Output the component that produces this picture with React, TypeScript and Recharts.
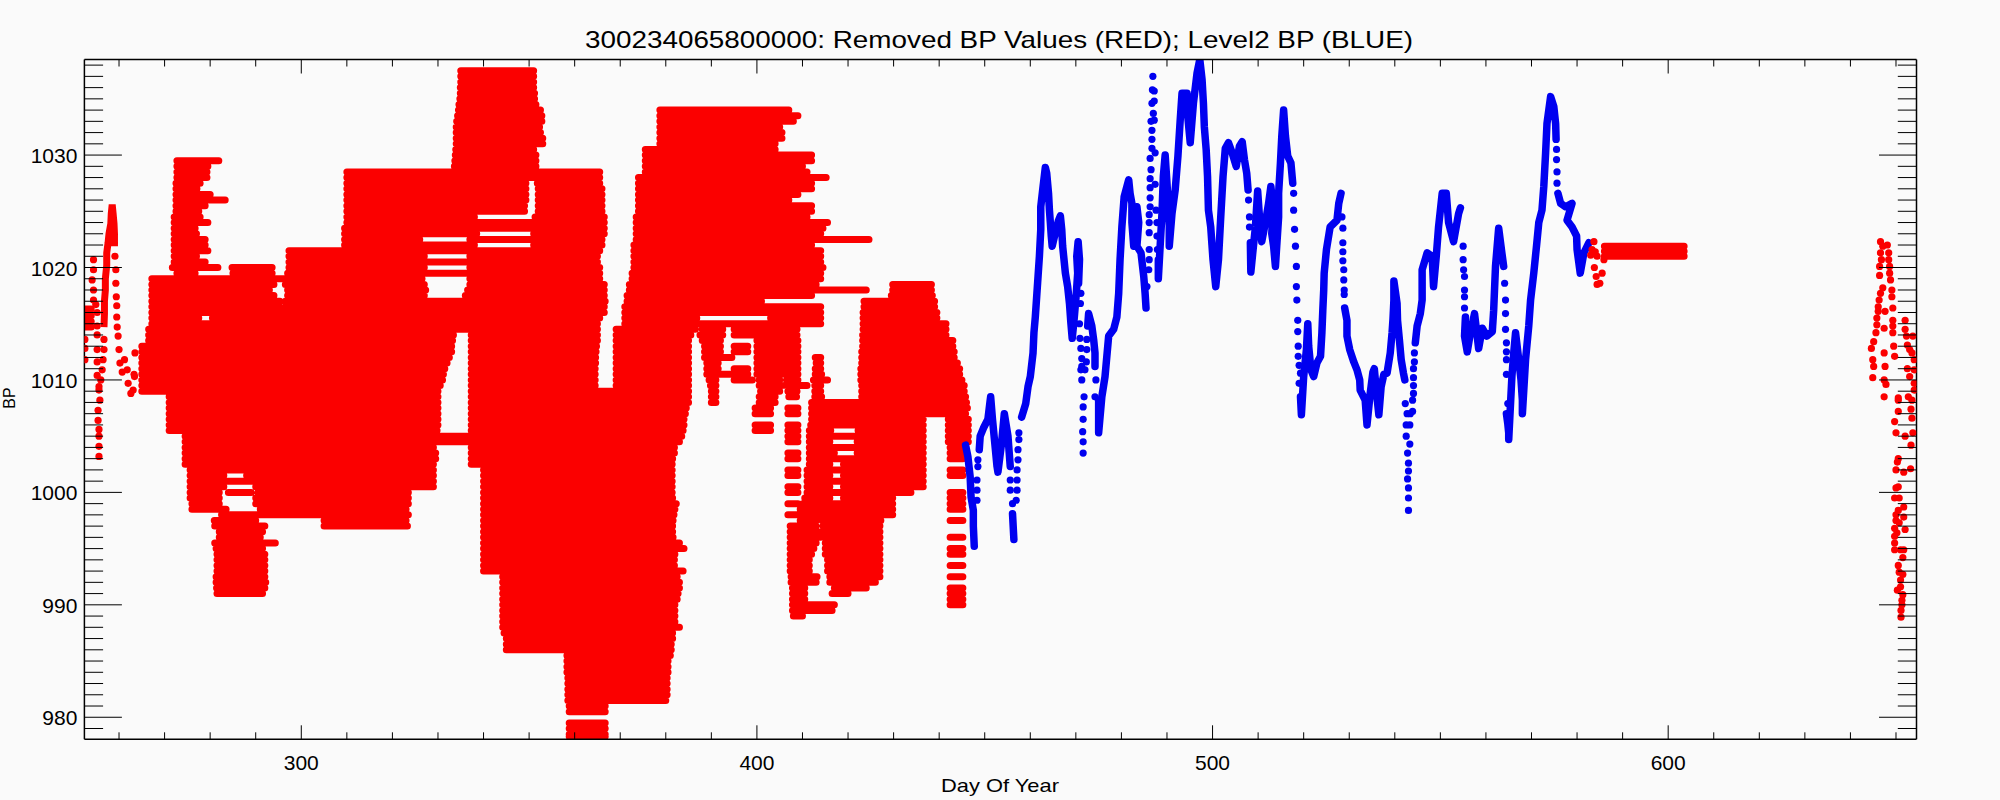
import React from "react";
import { ComposedChart, Line, Scatter, XAxis, YAxis } from "recharts";

const xMinorTicks = [
  260, 270, 280, 290, 300, 310, 320, 330, 340, 350, 360, 370, 380, 390, 400, 410, 420, 430, 440, 450,
  460, 470, 480, 490, 500, 510, 520, 530, 540, 550, 560, 570, 580, 590, 600, 610, 620, 630, 640, 650,
];
const yTicks = [
  979, 980, 981, 982, 983, 984, 985, 986, 987, 988, 989, 990, 991, 992, 993, 994, 995, 996, 997, 998, 999,
  1000, 1001, 1002, 1003, 1004, 1005, 1006, 1007, 1008, 1009, 1010, 1011, 1012, 1013, 1014, 1015, 1016, 1017, 1018, 1019,
  1020, 1021, 1022, 1023, 1024, 1025, 1026, 1027, 1028, 1029, 1030, 1031, 1032, 1033, 1034, 1035, 1036, 1037, 1038,
];

// removed values sit on pressure levels: [bp, dayFrom, dayTo, dayFrom, dayTo, ...]
const redLevels: number[][] = [
  [1037.5, 335, 351],
  [1037, 335, 351],
  [1036.5, 335, 351],
  [1036, 334.9, 351],
  [1035.5, 334.9, 351.2],
  [1035, 334.8, 351.2],
  [1034.5, 334.6, 351.5],
  [1034, 334.5, 352.5, 378.7, 407],
  [1033.5, 334.3, 352.8, 378.7, 409],
  [1033, 334.1, 352.8, 378.7, 408],
  [1032.5, 334, 352.3, 378.7, 405],
  [1032, 334, 352.5, 378.7, 405.5],
  [1031.5, 334, 353, 378.7, 405.5],
  [1031, 334, 353, 378.7, 404],
  [1030.5, 333.9, 351, 375.5, 404],
  [1030, 333.8, 351.5, 375.5, 412],
  [1029.5, 272.7, 281.9, 333.7, 351.5, 375.5, 412],
  [1029, 272.7, 279.5, 333.6, 351.5, 375.5, 410],
  [1028.5, 272.7, 279.3, 310, 365.5, 375.5, 411],
  [1028, 272.7, 279.3, 310, 365.5, 374, 415.2],
  [1027.5, 272.5, 277.8, 310, 349.3, 351.8, 365.5, 374, 412],
  [1027, 272.5, 277.1, 310, 325, 325.8, 349.3, 352, 366, 374, 412],
  [1026.5, 272.5, 280, 310, 325, 325.8, 349.3, 352, 366, 374, 409],
  [1026, 272.5, 283.3, 310, 325, 325.8, 349.3, 352, 366, 374, 407],
  [1025.5, 272.5, 278.9, 310, 349, 352, 366, 374, 412],
  [1025, 272.5, 277.5, 310, 349, 352, 366, 374, 412],
  [1024.5, 272.1, 277.8, 310, 338, 351.3, 366.5, 373.5, 411],
  [1024, 272.1, 279.5, 310, 366.5, 373.5, 415.5],
  [1023.5, 272.1, 276.7, 309.5, 366.5, 373.5, 414.5],
  [1023, 272.1, 277, 309.5, 338.5, 351, 366.5, 373.5, 414],
  [1022.5, 272.1, 278.9, 309.5, 326, 337, 366, 373.5, 424.6],
  [1022, 272.1, 278.9, 309.5, 338, 351, 366, 373, 412],
  [1021.5, 272.1, 279.5, 297.3, 365.5, 373, 414],
  [1021, 272.1, 277, 297.3, 327, 337, 365, 373, 414],
  [1020.5, 272.1, 278.9, 297.3, 365, 373, 414],
  [1020, 271.7, 281.7, 284.8, 293.6, 297.3, 327, 337, 365.5, 373, 414.5],
  [1019.5, 272.7, 276.7, 285, 293.6, 297, 365.5, 372.6, 414],
  [1019, 267.2, 326.5, 337, 365.5, 372.6, 414],
  [1018.5, 267.2, 294, 296.5, 327, 337, 366.5, 372, 413, 429.8, 438.3],
  [1018, 267.2, 293, 297, 327.3, 336.5, 366.5, 372, 424, 429.8, 438.3],
  [1017.5, 267.2, 294, 297, 327, 336, 366.5, 371.5, 412, 429.5, 438.5],
  [1017, 267.2, 295.3, 296.5, 366.7, 371.5, 401, 423.5, 439],
  [1016.5, 267.2, 295.3, 296.5, 366.5, 371, 414, 423.5, 439],
  [1016, 267.2, 366.5, 371, 414, 423.3, 439.5],
  [1015.5, 267.2, 277.5, 280.5, 365.5, 371, 386.8, 403, 414, 423.3, 439.5],
  [1015, 267.2, 365, 371, 414, 423.3, 441.5],
  [1014.5, 266.5, 365, 369.1, 386.5, 388, 392.5, 395, 405, 406, 408.8, 423.3, 441.5],
  [1014, 266.5, 333.4, 337.3, 365, 369.1, 385.5, 387.5, 392.5, 395, 405.5, 406, 408.8, 423.2, 441.5],
  [1013.5, 266.5, 333.2, 337.3, 365, 369.1, 385, 388, 392, 400, 405.5, 406, 409, 423.2, 443],
  [1013, 265, 333, 337.3, 364.8, 369.1, 385, 388.5, 392, 395, 398, 400, 405, 406, 409, 423.2, 443],
  [1012.5, 265, 333, 337.3, 364.7, 369.1, 385, 388.5, 392, 395, 398, 400, 405, 406, 409, 423, 443.3],
  [1012, 265, 332.5, 337.3, 364.6, 369.1, 385, 388.5, 394.5, 400, 405, 406, 409, 412.8, 414, 423, 443.3],
  [1011.5, 265, 332, 337.3, 364.6, 369.1, 385, 389, 391.5, 400, 405, 406, 409, 413, 414, 423, 444],
  [1011, 265, 331.5, 337.3, 364.5, 369.1, 385, 389, 391.5, 395, 398, 400, 405, 406, 409, 412.8, 414, 422.8, 444.5],
  [1010.5, 265, 331.2, 337.3, 364.5, 369.1, 385, 389, 398, 400, 405.5, 406.5, 409, 412.8, 414.2, 422.8, 444.5],
  [1010, 265, 331, 337.3, 364.5, 369.1, 385, 389.5, 391, 395, 399, 400.5, 405, 406.5, 409, 412.4, 415.5, 422.8, 445],
  [1009.5, 265, 330.5, 337.3, 364.5, 369.1, 385, 389.8, 391, 400.5, 405.5, 406.5, 411, 412.7, 414, 423, 445.5],
  [1009, 265, 330, 337.3, 385, 390, 391, 400.8, 405, 406.8, 408.8, 412.7, 414, 423, 445.5],
  [1008.5, 271, 330, 337.3, 385, 390, 391, 400.5, 404, 407, 408.7, 412.7, 414.2, 423, 445.8],
  [1008, 271, 330, 337.3, 385, 390, 391, 400.5, 404, 412, 446],
  [1007.5, 271, 330, 337.3, 384.5, 399.6, 403, 406.8, 409, 412, 446.2],
  [1007, 271, 330, 337.3, 384.3, 399.6, 403, 406.8, 409, 412, 436.8, 437.5, 445.8],
  [1006.5, 271, 330, 337.3, 384, 412, 436.5, 442, 446.4],
  [1006, 271, 330, 337.3, 384, 399.6, 403, 406.8, 409, 411.8, 436.5, 442, 446.4],
  [1005.5, 271, 329.8, 337.3, 383.8, 399.6, 403, 406.8, 409, 411.5, 416.2, 422.2, 436.5, 442, 446.4],
  [1005, 274.5, 383.5, 406.8, 409, 411.5, 436.5, 442, 446.4],
  [1004.5, 274.5, 383, 406.8, 409, 411.5, 416, 422, 436.5, 442, 446.4],
  [1004, 274.5, 329, 337.3, 381.9, 411.5, 436.5, 442.4, 445.2],
  [1003.5, 274.5, 329.5, 337.3, 381.9, 406.8, 409, 411.5, 417, 422, 436.5, 442.4, 445.2],
  [1003, 274.5, 329.5, 337.3, 381.5, 406.8, 409, 411.5, 436.5, 442.4, 445.2],
  [1002.5, 274.5, 329, 337.3, 381.4, 411.5, 416, 419, 436.5],
  [1002, 275.6, 329, 340, 381.4, 406.8, 409, 411, 436.5, 442.4, 445.2],
  [1001.5, 275.6, 283, 288, 329, 340, 381.4, 406.8, 409, 411, 416, 419, 436.5, 442.4, 445.2],
  [1001, 275.6, 329, 340, 381.4, 411, 436.5],
  [1000.5, 275.6, 283, 290, 329, 340, 381.4, 406.8, 409, 411, 416, 419, 436.5],
  [1000, 275.6, 282, 284, 289, 290.5, 323.5, 340, 381.4, 406.8, 409, 411, 433.8, 442.4, 445.2],
  [999.5, 275.6, 282, 290, 323.5, 340, 381.5, 410.5, 416, 419, 429.8, 442.4, 445.2],
  [999, 276, 282, 290, 323.5, 340, 382.3, 406.8, 409, 410, 429.8, 442.4, 445.2],
  [998.5, 276, 283.5, 291, 323, 340, 382, 409.5, 429.8, 442.4, 445.2],
  [998, 282.5, 323.5, 340, 381.8, 406.8, 429.8],
  [997.5, 280.9, 290, 305, 323, 340, 381.6, 409.5, 413, 414.3, 427.2, 442.4, 445.2],
  [997, 281, 292, 305, 323.3, 340, 381.5, 407.3, 413, 414.5, 427],
  [996.5, 282, 291.5, 340, 381.5, 407.3, 413.5, 414.5, 427],
  [996, 282, 291, 340, 381.6, 407.3, 414, 415, 427, 442.4, 445.2],
  [995.5, 281, 294.3, 340, 383, 407.3, 413, 415, 427],
  [995, 281.3, 291.5, 340, 384, 407.3, 412.5, 415, 427, 442.4, 445.2],
  [994.5, 281.5, 292, 340, 382, 407.3, 412, 415, 427, 442.4, 445.2],
  [994, 281.5, 292, 340, 381.9, 407.3, 411.5, 415.5, 427],
  [993.5, 281.5, 292, 340, 381.9, 407.3, 411.5, 415.5, 427, 442.4, 445.2],
  [993, 281.5, 292, 340, 383.8, 407.3, 411.5, 415.5, 427],
  [992.5, 281.3, 292, 344.2, 382.5, 407.5, 413.2, 416, 427, 442.4, 445.2],
  [992, 281.3, 292.2, 344.2, 383, 407.5, 413, 416, 426],
  [991.5, 281.4, 292, 344.2, 383, 407.8, 410.5, 417, 424, 442.4, 445.2],
  [991, 281.5, 291.5, 344.2, 382.7, 407.8, 410.5, 416.5, 420, 442.4, 445.2],
  [990.5, 344.2, 382.5, 407.8, 410.5, 442.4, 445.2],
  [990, 344.2, 382, 407.8, 417, 442.4, 445.2],
  [989.5, 344.2, 382, 407.8, 416.5],
  [989, 344.2, 382, 408, 410],
  [988.5, 344.2, 382],
  [988, 344.2, 383],
  [987.5, 344.5, 381.5],
  [987, 345, 381.5],
  [986.5, 345, 381.2],
  [986, 345, 381.2],
  [985.5, 358.3, 381],
  [985, 358.3, 380.5],
  [984.5, 358.3, 380.5],
  [984, 358.3, 380.5],
  [983.5, 358.5, 380.3],
  [983, 358.5, 380.3],
  [982.5, 358.5, 380.3],
  [982, 358.5, 380.3],
  [981.5, 358.5, 380],
  [981, 358.8, 366.7],
  [980.5, 358.8, 366.7],
  [979.5, 358.8, 366.7],
  [979, 358.8, 366.7],
  [978.5, 358.8, 366.7],
  [978.3, 358.8, 366.7],
  // start of the record and the flat stretch after the blue curve
  [1016.3, 252.4, 253.9],
  [1015.7, 252.4, 253.9],
  [1015.2, 252.4, 253.9],
  [1014.7, 252.4, 253.9],
  [1021.9, 586, 603.5],
  [1021.45, 586, 603.5],
  [1021, 586, 603.5],
];

const redCurve: number[][] = [
  [256.7, 1014.7], [256.8, 1015.9], [256.8, 1017], [257, 1018], [257, 1019], [257.3, 1020.2], [257.3, 1021.3],
  [257.6, 1022.2], [257.8, 1023], [258.2, 1023.9], [258.3, 1024.8], [258.5, 1025.6], [258.7, 1024.8], [258.9, 1023.9],
  [259, 1023], [259, 1021.9],
];

const redPoints: number[][] = [
  [252.5, 1013.6], [252.5, 1012.8], [252.5, 1011.8],
  [254.4, 1020.7], [254.4, 1019.8], [254.1, 1018.9], [254.4, 1018], [254.4, 1017.1], [254.9, 1016.7], [255.2, 1016],
  [255.2, 1014.8], [255.2, 1014], [255.2, 1012.7], [255.2, 1011.6], [255.2, 1010.4], [255.6, 1009.4],
  [255.6, 1003.2], [255.6, 1004.1], [255.6, 1005], [255.6, 1005.6], [255.4, 1006.4], [255.4, 1007.3], [255.8, 1008.2],
  [255.6, 1009.1], [256, 1010], [256.3, 1010.9], [256.5, 1011.8], [256.7, 1012.7], [256.7, 1013.6],
  [259.1, 1021], [259.3, 1019.8], [259.3, 1018.6], [259.4, 1017.4], [259.5, 1016.6], [259.5, 1015.6], [259.6, 1014.7],
  [259.8, 1013.9], [260, 1012.7], [260.2, 1011.5], [260.7, 1010.7], [261.2, 1011.8], [261.8, 1010.9], [262, 1009.7],
  [262.6, 1008.8], [263.1, 1009.1], [263.4, 1010.3], [263.5, 1012.4], [263.3, 1010.5],
  // little lump where the blue curve ends
  [583.7, 1022.3], [583.3, 1021.6], [584, 1021.4], [583, 1021.1], [584.4, 1021], [583.8, 1020], [584.2, 1019.2],
  [584.4, 1018.5], [585, 1018.6], [585.5, 1019.5], [585.9, 1020.7],
  // scattered values at the end of the record
  [646.6, 1022.3], [647.1, 1021.9], [646.6, 1021.3], [646.8, 1020.7], [646.4, 1020.1], [646.4, 1019.3], [648.1, 1022],
  [648.4, 1021.3], [648.4, 1020.7], [648.6, 1020.1], [648.6, 1019.5], [648.8, 1018.9], [649.1, 1018], [649.1, 1017.4],
  [647.1, 1018.2], [646.6, 1017.7], [646.3, 1017.1], [646.1, 1016.5], [646.1, 1016.1], [647.6, 1016.1], [649.3, 1016.4],
  [645.8, 1015.5], [645.8, 1014.9], [645.6, 1014.2], [647.4, 1014.6], [649.3, 1015.3], [649.3, 1014.8], [649.3, 1014.2],
  [652, 1015.3], [652, 1014.5], [645.1, 1013.4], [644.6, 1012.8], [644.9, 1011.8], [645.1, 1011.2], [644.9, 1010.2],
  [647.4, 1012.4], [649.5, 1013], [649.7, 1012.1], [647.6, 1011.2], [647.4, 1010], [647.8, 1009.6], [652.3, 1013.9],
  [652.5, 1013.1], [653, 1012.7], [653.7, 1013.9], [653.5, 1012.4], [654, 1011.8], [654, 1010.9], [652.5, 1011],
  [653, 1010.3], [654, 1009.7], [654, 1009.1], [647.4, 1008.5], [650.5, 1008.4], [652.7, 1008.5], [650.5, 1008.2],
  [653.5, 1008.2], [653.3, 1007.4], [650.5, 1007.2], [653.5, 1006.6], [649.7, 1006.3], [650, 1005.3], [653.7, 1005.3],
  [652, 1005], [653.3, 1004.2], [650.5, 1003], [650.3, 1002.7], [650, 1002], [651.7, 1001.8], [653.2, 1002.1],
  [650.5, 1000.5], [650, 1000.4], [649.7, 999.5], [650.7, 999.5], [651.7, 998.7], [650.5, 998.4], [650, 998],
  [651.7, 997.8], [650, 997.5], [650.7, 997.3], [649.7, 996.8], [652, 996.7], [650.2, 996.4], [649.7, 996.1],
  [649.7, 995.5], [649.7, 994.9], [651, 994.9], [651.7, 994.9], [651.5, 994.2], [650.5, 993.5], [650.7, 992.9],
  [651.5, 992.7], [651, 992.2], [651, 991.6], [650.3, 991.3], [651.5, 990.9], [651.3, 990.4], [651.3, 990],
  [651.1, 989.5], [651.1, 988.9],
];

// blue curve where the samples run together
const blueRuns: number[][][] = [
  [[445.8, 1004.2], [446.3, 1003.2], [446.8, 1001.4], [447, 999.6], [447.5, 998.4], [447.5, 997], [447.7, 995.2]],
  [[448.8, 1003.8], [449, 1005], [449.7, 1005.7], [450.7, 1006.5], [451.2, 1008.2], [451.3, 1008.5], [451.7, 1006.5],
    [452.2, 1004.4], [452.7, 1002.3], [452.9, 1001.8], [453.7, 1004.4], [454.3, 1007], [455.1, 1005], [455.6, 1002.3]],
  [[456.1, 998.1], [456.4, 995.8]],
  [[458.1, 1006.7], [459, 1007.9], [459.5, 1009.4], [460, 1010.3], [460.6, 1012.4], [460.8, 1014.2], [461.1, 1015.6],
    [461.4, 1017.4], [461.7, 1019.2], [462, 1021], [462.3, 1023.4], [462.3, 1025.4], [462.8, 1027.2], [463.3, 1028.9],
    [463.6, 1028.4], [464, 1026.6], [464.2, 1025.1], [464.4, 1024], [464.6, 1022.8], [464.8, 1021.9], [465.5, 1023.1],
    [466.2, 1024.2], [466.6, 1024.6], [466.9, 1023.4], [467.1, 1021.9], [467.4, 1020.7], [467.7, 1019.5], [468.2, 1018.3],
    [468.6, 1016.8], [468.9, 1015.1], [469.2, 1013.7], [469.6, 1015.3], [470.1, 1017.7], [470.4, 1019.5], [470.2, 1021],
    [470.5, 1022.3], [470.8, 1020.7], [470.6, 1018.6]],
  [[472.6, 1014.8], [472.8, 1015.9], [473.5, 1014.8], [473.9, 1013.6], [474.2, 1012.4], [474.2, 1011.2]],
  [[475, 1008.2], [475, 1006.5], [475, 1005.3], [475.7, 1008.5], [476.4, 1010.3], [477.2, 1013.9], [478.3, 1014.5],
    [479, 1015.6], [479.4, 1017.7], [479.7, 1020.7], [480.1, 1023.6], [480.6, 1026.3], [481.6, 1027.8], [481.9, 1026.6],
    [482.3, 1025.7], [482.3, 1024.8], [482.3, 1024], [482.7, 1021.9], [483.4, 1025.4], [483.8, 1024], [483.4, 1021.9],
    [484.3, 1021.3], [484.9, 1019.2], [485.2, 1017.7], [485.4, 1016.4]],
  [[488.1, 1020.7], [488.1, 1019.8], [488.1, 1019], [488.5, 1021.9], [488.9, 1024.8], [489.2, 1028.1], [489.6, 1030],
    [490, 1027.5], [490.3, 1025.4], [490.5, 1023.7], [490.5, 1021.9], [491.1, 1024.8], [491.8, 1026.9], [492.4, 1029.9],
    [492.9, 1033.1], [493.3, 1035.5], [494.4, 1035.5], [494.5, 1033.7], [495.1, 1031.1], [495.8, 1034.6], [496.6, 1037.3],
    [497.2, 1038.5], [497.7, 1036.7], [498, 1034.6], [498.2, 1032.5], [498.6, 1030.5], [498.9, 1028.1], [499.1, 1025.1],
    [499.6, 1023.6], [500.1, 1020.7], [500.7, 1018.3], [501.3, 1020.7], [501.8, 1024.5], [502.3, 1028.1], [502.8, 1030.6],
    [503.5, 1031.1], [504.3, 1030.2], [505.2, 1029], [505.9, 1030.8], [506.5, 1031.2], [507, 1029.6], [507.5, 1028.4],
    [507.8, 1026.9]],
  [[508.3, 1022.2], [508.4, 1019.6], [509.4, 1023.6], [509.9, 1026.8], [510.3, 1024.5], [510.8, 1022.3], [511.6, 1024],
    [512.3, 1025.7], [512.8, 1027.2], [513.3, 1025.4], [513, 1023], [513.4, 1021.9], [513.8, 1020.1], [514.5, 1024.5],
    [514.5, 1026.6], [514.9, 1029.3], [515.2, 1031.7], [515.6, 1034], [516, 1031.7], [516.5, 1029.9], [517.2, 1029.3],
    [517.6, 1027.5]],
  [[519.3, 1008.5], [519.5, 1006.9], [520, 1010.3], [520.6, 1012.7], [520.9, 1015], [521.1, 1013], [521.6, 1010.9],
    [522.2, 1010.3], [522.9, 1011.5], [523.7, 1012.1], [524, 1014.2], [524.2, 1016.2], [524.4, 1018], [524.5, 1019.5],
    [525, 1021.6], [525.8, 1023.6], [527.3, 1024.2], [527.7, 1025.7], [528.2, 1026.6]],
  [[529, 1016.4], [529.5, 1015.3], [529.5, 1013.9], [530.1, 1012.7], [531, 1011.6], [531.7, 1010.9], [532.3, 1010],
    [532.4, 1009.1], [533.5, 1008.2], [533.9, 1006], [534.6, 1008.8], [535.2, 1010.7], [535.5, 1011], [536, 1008.8],
    [536.5, 1006.9], [537, 1009.4], [537.6, 1010.5], [538.3, 1010.6], [539, 1012.4], [539.4, 1014.2], [539.6, 1015.4],
    [539.8, 1017.1], [539.8, 1018.8], [540.5, 1016.8], [540.6, 1015.3], [541, 1013.6], [541.4, 1011.8], [541.9, 1010.6],
    [542.2, 1010]],
  [[544.5, 1013.3], [544.9, 1014.8], [545.6, 1015.9], [546, 1017.1], [546, 1019.8], [547.1, 1021.3], [548.2, 1021],
    [548.5, 1018.3], [549.1, 1021], [549.6, 1023.6], [550.4, 1026.6], [551.3, 1026.6], [551.8, 1024], [552.9, 1022.3],
    [554, 1024.8], [554.4, 1025.3]],
  [[555.5, 1015.6], [555.3, 1013.9], [555.9, 1012.5], [556.6, 1014.2], [557.5, 1015.9], [558, 1014.2], [558.4, 1012.8],
    [559.2, 1014.6], [560.2, 1013.9], [561.4, 1014.3], [561.7, 1016.2], [562.1, 1020.1], [562.8, 1023.5], [563.5, 1021.3],
    [563.9, 1020.1]],
  [[564.5, 1007], [564.8, 1006.1], [565, 1005.3], [565, 1004.7], [565.7, 1010.3], [566.1, 1012.4], [566.5, 1014.2],
    [567.2, 1011.8], [567.7, 1010], [568, 1008.2], [568, 1007], [568.7, 1011.8], [569.4, 1014.8], [569.8, 1017.1],
    [570.5, 1019.5], [571.1, 1021.9], [571.6, 1024], [572.3, 1025.1], [572.7, 1027.2], [573.1, 1030.2], [573.4, 1032.8],
    [574.2, 1035.2], [574.9, 1034.3], [575.3, 1032.8], [575.4, 1031.4]],
  [[575.8, 1026.6], [576.4, 1025.7], [577.5, 1025.4], [578.9, 1025.7], [577.8, 1024.2], [578.9, 1023.6], [579.9, 1022.8],
    [580, 1021.6], [580.4, 1020.4], [580.7, 1019.5], [581.5, 1021.3], [582.6, 1022.2]],
];

// blue samples that stand apart on the steep stretches
const bluePoints: number[][] = [
  [448.3, 999.3], [448.3, 1000.2], [448.3, 1001.1], [448.5, 1002.3], [448.5, 1002.9],
  [455.6, 1001.1], [455.6, 1000.2], [456.1, 999], [456.9, 999.3], [457.1, 1000.2], [457.1, 1001.1], [457.1, 1002],
  [457.3, 1002.9], [457.3, 1003.8], [457.5, 1004.7], [457.5, 1005.3],
  [471.1, 1017.7], [471, 1016.8], [470.8, 1015], [470.9, 1013.7], [471.1, 1012.8], [471.3, 1011.9], [471.1, 1010.9],
  [471.3, 1010], [471.3, 1011.2], [471.8, 1008.5], [471.6, 1007.6], [471.6, 1006.5], [471.5, 1005.4], [471.6, 1004.5],
  [471.6, 1003.5], [472, 1010.9], [472.3, 1011.6], [472.4, 1012.7], [472.4, 1013.6], [474.4, 1010], [474.2, 1008.5],
  [485.6, 1018.3], [486, 1019.8], [486.1, 1020.7], [486.1, 1021.6], [486.1, 1023.1], [486.1, 1024], [486.1, 1024.7],
  [486.3, 1025.4], [486.3, 1026.2], [486.3, 1027.1], [486.3, 1027.9], [486.5, 1028.7], [486.3, 1029.7], [486.7, 1030.6],
  [486.7, 1031.4], [486.7, 1032.2], [486.5, 1033], [487, 1033.7], [486.7, 1034.6], [486.8, 1035.8], [486.9, 1037],
  [487.2, 1035.7], [487.2, 1034.8], [487.2, 1033.1], [487.4, 1030.2], [487.4, 1027.4], [487.6, 1025.1], [487.8, 1024],
  [487.8, 1022.8], [487.9, 1021.6],
  [507.9, 1026], [508.1, 1024.5], [508.1, 1023.6],
  [517.8, 1026.6], [517.8, 1025.1], [518, 1023.4], [518.2, 1021.9], [518.4, 1020.1], [518.4, 1018.3], [518.5, 1017.1],
  [518.7, 1015.3], [518.7, 1014.3], [518.8, 1013], [518.8, 1012.1], [519, 1011.3], [519.3, 1010.6], [519, 1009.7],
  [528.4, 1024.5], [528.6, 1023.5], [528.6, 1022.2], [528.6, 1021.4], [528.6, 1020.6], [528.8, 1019.8], [528.8, 1018.9],
  [528.9, 1018], [528.9, 1017.6],
  [542.3, 1007.9], [542.7, 1007], [542.5, 1006], [543.3, 1006], [542.5, 1005], [543.3, 1004.3], [542.8, 1003.5],
  [543, 1002.6], [543, 1001.9], [542.8, 1001.2], [543, 1000.4], [543, 999.5], [543, 998.4], [543.4, 1007], [543.9, 1007.2],
  [543.9, 1008.2], [544.1, 1008.8], [544.1, 1009.5], [544.1, 1010.2], [544.1, 1011], [544.3, 1011.6], [544.3, 1012.4],
  [555, 1021.9], [555, 1020.7], [555.1, 1019.8], [555.3, 1019.2], [555.3, 1018], [555.3, 1017.4], [555.3, 1016.4],
  [564.1, 1018.6], [564.3, 1017.1], [564.3, 1015.9], [564.3, 1014.5], [564.5, 1013.3], [564.5, 1012.5], [564.5, 1011.8],
  [564.5, 1010.5], [564.8, 1007.9],
  [575.5, 1030.5], [575.5, 1029.6], [575.6, 1028.5], [575.6, 1027.5],
];

const asPoints = (list: number[][]) => list.map(([day, bp]) => ({ day, bp }));

// one path with breaks, the library leaves a gap at every empty bp
const levelTable = redLevels.flatMap(([bp, ...spans]) => {
  const rows: { day: number; bp: number | null }[] = [];
  for (let i = 0; i < spans.length; i += 2) {
    rows.push({ day: spans[i], bp }, { day: spans[i + 1], bp }, { day: spans[i + 1], bp: null });
  }
  return rows;
});
const blueTable = blueRuns.flatMap((run) => [
  ...asPoints(run),
  { day: run[run.length - 1][0], bp: null as number | null },
]);

const FONT = "Liberation Sans";
const INK = "#000";

const Dot = (fill: string, r: number) => (props: any) => <circle cx={props.cx} cy={props.cy} r={r} fill={fill} />;

const bottomTick = ({ x, y, payload }: any) => {
  const major = payload.value % 100 === 0;
  return (
    <g>
      <line x1={x} x2={x} y1={y} y2={y - (major ? 14 : 7)} stroke={INK} />
      {major && (
        <text x={x} y={y + 31} textAnchor="middle" fontFamily={FONT} fontSize={21} fill={INK}>
          {payload.value}
        </text>
      )}
    </g>
  );
};
const topTick = ({ x, y, payload }: any) => (
  <line x1={x} x2={x} y1={y} y2={y + (payload.value % 100 === 0 ? 14 : 7)} stroke={INK} />
);
const leftTick = ({ x, y, payload }: any) => {
  const major = payload.value % 10 === 0;
  return (
    <g>
      <line x1={x} x2={x + (major ? 37.5 : 18.7)} y1={y} y2={y} stroke={INK} />
      {major && (
        <text x={x - 7} y={y + 8} textAnchor="end" fontFamily={FONT} fontSize={21} fill={INK}>
          {payload.value}
        </text>
      )}
    </g>
  );
};
const rightTick = ({ x, y, payload }: any) => (
  <line x1={x} x2={x - (payload.value % 10 === 0 ? 37.5 : 18.7)} y1={y} y2={y} stroke={INK} />
);

const X_DOMAIN = [252.4, 654.5];
const Y_DOMAIN = [978.04, 1038.5];
const frame = { stroke: INK, strokeWidth: 1.5 };

export default function App() {
  return (
    <div style={{ position: "absolute", left: 0, top: 0, width: 2000, height: 800, background: "#fafafa" }}>
      <ComposedChart width={2000} height={800} margin={{ top: 58.5, right: 82.5, bottom: 59.7, left: 83.4 }}>
        <XAxis
          xAxisId="bottom"
          dataKey="day"
          type="number"
          domain={X_DOMAIN}
          ticks={xMinorTicks}
          interval={0}
          height={1}
          allowDataOverflow
          tickSize={0}
          tickMargin={0}
          tickLine={false}
          axisLine={frame}
          tick={bottomTick}
        />
        <XAxis
          xAxisId="top"
          orientation="top"
          dataKey="day"
          type="number"
          domain={X_DOMAIN}
          ticks={xMinorTicks}
          interval={0}
          height={1}
          allowDataOverflow
          tickSize={0}
          tickMargin={0}
          tickLine={false}
          axisLine={frame}
          tick={topTick}
        />
        <YAxis
          yAxisId="left"
          dataKey="bp"
          type="number"
          domain={Y_DOMAIN}
          ticks={yTicks}
          interval={0}
          width={1}
          allowDataOverflow
          tickSize={0}
          tickMargin={0}
          tickLine={false}
          axisLine={frame}
          tick={leftTick}
        />
        <YAxis
          yAxisId="right"
          orientation="right"
          dataKey="bp"
          type="number"
          domain={Y_DOMAIN}
          ticks={yTicks}
          interval={0}
          width={1}
          allowDataOverflow
          tickSize={0}
          tickMargin={0}
          tickLine={false}
          axisLine={frame}
          tick={rightTick}
        />
        <Line
          xAxisId="bottom"
          yAxisId="left"
          data={levelTable}
          dataKey="bp"
          stroke="#fb0000"
          strokeWidth={7}
          strokeLinecap="round"
          dot={false}
          isAnimationActive={false}
        />
        <Line
          xAxisId="bottom"
          yAxisId="left"
          data={asPoints(redCurve)}
          dataKey="bp"
          stroke="#fb0000"
          strokeWidth={7}
          dot={false}
          isAnimationActive={false}
        />
        <Scatter
          xAxisId="bottom"
          yAxisId="left"
          data={asPoints(redPoints)}
          shape={Dot("#fb0000", 3.6)}
          isAnimationActive={false}
        />
        <Line
          xAxisId="bottom"
          yAxisId="left"
          data={blueTable}
          dataKey="bp"
          stroke="#0000f0"
          strokeWidth={7.5}
          strokeLinejoin="round"
          strokeLinecap="round"
          dot={false}
          isAnimationActive={false}
        />
        <Scatter
          xAxisId="bottom"
          yAxisId="left"
          data={asPoints(bluePoints)}
          shape={Dot("#0000f0", 3.6)}
          isAnimationActive={false}
        />
        <text x={999} y={48} textAnchor="middle" fontFamily={FONT} fontSize={24} fill={INK} textLength={828} lengthAdjust="spacingAndGlyphs">
          300234065800000: Removed BP Values (RED); Level2 BP (BLUE)
        </text>
        <text x={1000} y={792} textAnchor="middle" fontFamily={FONT} fontSize={19} fill={INK} textLength={118} lengthAdjust="spacingAndGlyphs">
          Day Of Year
        </text>
        <text x={15} y={398} textAnchor="middle" fontFamily={FONT} fontSize={16} fill={INK} transform="rotate(-90 15 398)">
          BP
        </text>
      </ComposedChart>
    </div>
  );
}
